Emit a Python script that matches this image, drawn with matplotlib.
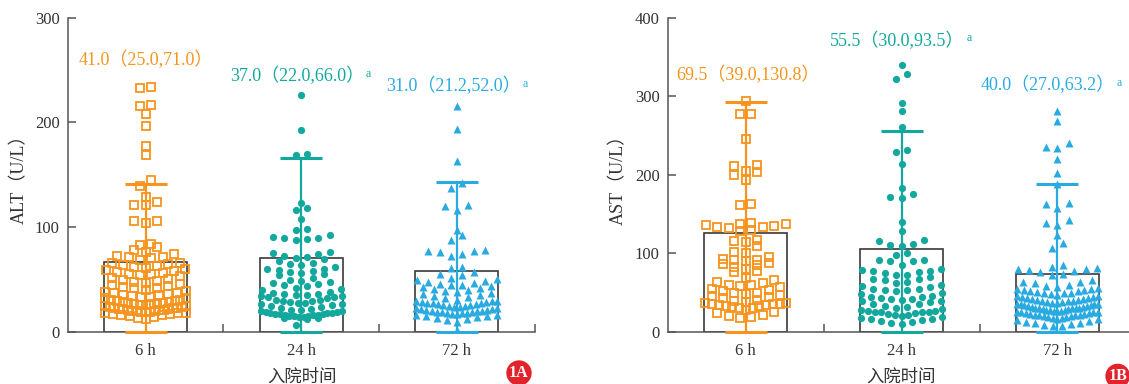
import numpy as np
import matplotlib.pyplot as plt

plt.rcParams['font.family'] = ['Liberation Serif', 'Noto Sans CJK SC', 'DejaVu Sans']

groups = ['6 h', '24 h', '72 h']
colors = ['#F7941D', '#13A89E', '#29ABE2']
markers = ['s', 'o', '^']

# ALT (U/L)
alt_6h = [234, 233, 217, 216, 208, 197, 178, 169, 145, 139, 129, 124, 121, 121, 106, 106, 104,
          84, 83, 81, 78, 76, 74, 73, 72, 72, 71, 69,
          66, 66, 65, 64, 63, 62, 61, 60, 59, 58, 57, 56, 55, 55, 54, 53, 52, 51, 50, 49, 48, 47,
          46, 45, 44, 43, 42, 42,
          40, 39, 38, 37, 37, 36, 35, 35, 34, 33, 33, 32, 32, 31, 31, 30, 30, 29, 29, 28, 28, 27,
          27, 27, 26, 26, 25, 25,
          24, 24, 23, 23, 23, 22, 22, 22, 21, 21, 21, 20, 20, 20, 19, 19, 19, 18, 18, 18, 17, 17,
          16, 16, 15, 14, 13, 12]
alt_24h = [226, 193, 170, 169, 123, 118, 116, 108, 98, 97, 93, 91, 90, 90, 89, 88, 76, 75, 74,
           73, 72, 71, 70, 68,
           66, 65, 64, 62, 60, 60, 59, 58, 57, 56, 55, 54, 52, 50, 49, 48, 47, 46, 45, 44, 42, 41,
           40, 38,
           37, 36, 36, 35, 35, 34, 34, 33, 33, 32, 31, 31, 30, 30, 29, 28, 28, 27, 27, 26, 25, 24,
           23, 22,
           21, 21, 20, 20, 19, 19, 18, 18, 18, 17, 17, 17, 16, 16, 16, 15, 15, 15, 14, 14, 13, 13,
           12, 7]
alt_72h = [216, 194, 163, 142, 137, 121, 120, 116, 97, 93, 88, 78, 77, 77, 76, 74, 73, 62, 61,
           57, 55, 54,
           52, 51, 50, 49, 48, 47, 46, 45, 45, 44, 43, 42, 41, 40, 39, 38, 37, 36, 35, 34, 33, 32,
           31, 30, 30, 30, 29, 29, 28, 28, 28, 27, 27, 26, 26, 25, 25, 24, 24, 23, 23, 22, 22, 21,
           21, 20, 20, 20, 19, 19, 19, 18, 18, 18, 17, 17, 16, 16, 15, 15, 14, 13, 12, 11, 10, 2]
alt_mean = [67.1, 71.0, 58.5]
alt_sd = [74.5, 95.4, 84.7]
alt_text = ['41.0（25.0,71.0）', '37.0（22.0,66.0）', '31.0（21.2,52.0）']
alt_sup = ['', 'a', 'a']

# AST (U/L)
ast_6h = [294, 278, 278, 246, 212, 211, 205, 203, 200, 194, 163, 162,
          139, 138, 137, 136, 135, 134, 133, 132,
          130, 128, 117, 116, 115, 109, 102, 100, 96, 93, 92, 91, 90, 88, 87, 85, 83, 80, 78, 76,
          69, 66, 64, 62, 60, 60, 58, 57, 55, 53, 52, 50, 49, 48, 47, 46, 45, 43, 41, 40,
          38, 37, 37, 36, 35, 35, 34, 34, 33, 33, 32, 31, 30, 28, 26, 24, 22, 20, 19, 18]
ast_24h = [340, 328, 322, 291, 281, 261, 232, 229, 214, 183, 176, 172, 170, 140, 129, 117, 116,
           112, 111, 110, 101, 98,
           92, 91, 90, 90, 85, 80, 79, 78, 77, 76, 75, 73, 72, 70, 68, 67, 66, 64, 62, 60, 58, 57,
           55, 55, 54, 53, 52, 50, 48, 46, 45, 44, 43, 42, 42, 41, 40, 39, 38, 36, 35, 33, 32, 31,
           29, 28, 27, 27, 26, 26, 25, 25, 24, 23, 22, 21, 20, 19, 18, 17, 16, 15, 14, 13, 11, 10]
ast_72h = [281, 268, 241, 236, 234, 220, 202, 188, 164, 163, 158, 142, 139, 136, 123, 113, 107,
           85, 83, 81, 80, 80, 79, 78, 76, 74, 72, 66, 64,
           63, 62, 60, 58, 57, 56, 55, 55, 54, 53, 52, 52, 51, 50, 50, 49, 48, 47, 46, 46, 45, 44,
           43, 43, 42, 42, 41, 41, 40,
           39, 39, 38, 38, 37, 37, 36, 36, 35, 35, 34, 34, 33, 33, 32, 32, 31, 31, 30, 30, 30, 29,
           29, 28, 28, 28, 27, 27, 27,
           26, 26, 25, 25, 24, 24, 23, 23, 22, 22, 21, 21, 20, 20, 19, 19, 18, 18, 17, 16, 15, 14,
           13, 12, 11, 10, 9, 8, 7]
ast_mean = [126.4, 106.0, 73.4]
ast_sd = [165.9, 149.4, 114.5]
ast_text = ['69.5（39.0,130.8）', '55.5（30.0,93.5）', '40.0（27.0,63.2）']
ast_sup = ['', 'a', 'a']


def spread(vals, h, dx=0.073, half=0.26):
    # simple column scatter: points within h of each other share a row,
    # the smallest sits in the middle and the rest fan outward
    v = np.sort(np.asarray(vals, float))
    xs = np.zeros(len(v))
    s = 0
    while s < len(v):
        e = s
        while e < len(v) and v[e] - v[s] < h:
            e += 1
        n = e - s
        step = dx if n <= 1 else min(dx, 2 * half / (n - 1))
        for k in range(n):
            if n % 2:
                off = ((k + 1) // 2) * (-1 if k % 2 else 1)
            else:
                off = (k // 2 + 0.5) * (-1 if k % 2 == 0 else 1)
            xs[s + k] = off * step
        s = e
    return v, xs


def panel(ax, data, means, sds, texts, sups, ymax, h, text_pos):
    x = np.arange(3)
    ax.bar(x, means, width=0.534, color='white', edgecolor='#3a3a3a', linewidth=1.2, zorder=1)
    for i, vals in enumerate(data):
        v, dx = spread(vals, h)
        if markers[i] == 's':
            ax.plot(i + dx, v, ls='none', marker='s', ms=5.6, mfc='none', mec=colors[i],
                    mew=1.3, zorder=3)
        else:
            ms = 5.2 if markers[i] == 'o' else 6.0
            ax.plot(i + dx, v, ls='none', marker=markers[i], ms=ms, color=colors[i],
                    mec='none', zorder=3)
        ax.errorbar(i, means[i], yerr=[[means[i]], [sds[i]]], fmt='none', ecolor=colors[i],
                    elinewidth=1.6, capsize=14.9, capthick=2.2, zorder=4, clip_on=False)
        tx, ty = text_pos[i]
        t = ax.text(tx, ty, texts[i], color=colors[i], fontsize=13, ha='center', va='center')
        if sups[i]:
            ax.annotate(sups[i], xy=(1.0, 0.95), xycoords=t, xytext=(1, 0),
                        textcoords='offset points', color=colors[i], fontsize=8.5,
                        ha='left', va='top')

    ax.set_xlim(-0.5, 2.5)
    ax.set_ylim(0, ymax)
    ax.set_xticks(x)
    ax.set_xticklabels(groups)
    ax.set_xticks([0.5, 1.5, 2.5], minor=True)
    ax.tick_params(axis='x', which='major', length=0, pad=8, labelsize=12, labelcolor='#333333')
    ax.tick_params(axis='x', which='minor', direction='in', length=6, width=1.1, color='#555555')
    ax.tick_params(axis='y', direction='in', length=6, width=1.1, color='#555555', pad=6,
                   labelsize=12, labelcolor='#333333')
    for s in ['top', 'right']:
        ax.spines[s].set_visible(False)
    for s in ['left', 'bottom']:
        ax.spines[s].set_color('#555555')
        ax.spines[s].set_linewidth(1.1)


fig = plt.figure(figsize=(11.29, 3.84), dpi=100)
W, H = 1129, 384
ax1 = fig.add_axes([67.9 / W, 52 / H, 466.7 / W, 314.3 / H])
ax2 = fig.add_axes([667.9 / W, 52 / H, 467.4 / W, 314.3 / H])

panel(ax1, [alt_6h, alt_24h, alt_72h], alt_mean, alt_sd, alt_text, alt_sup, 300, 7,
      [(0.0, 260), (0.974, 244), (1.98, 235)])
panel(ax2, [ast_6h, ast_24h, ast_72h], ast_mean, ast_sd, ast_text, ast_sup, 400, 9.5,
      [(0.014, 326.6), (0.974, 370.7), (1.94, 313.9)])
ax1.set_yticks([0, 100, 200, 300])
ax2.set_yticks([0, 100, 200, 300, 400])

fig.text(19.6 / W, 1 - 175 / H, 'ALT（U/L）', rotation=90, ha='center', va='center',
         fontsize=13, color='#333333')
fig.text(618 / W, 1 - 175 / H, 'AST（U/L）', rotation=90, ha='center', va='center',
         fontsize=13, color='#333333')
fig.text(302 / W, 1 - 377 / H, '入院时间', ha='center', va='center', fontsize=12.5,
         color='#333333', family=['Noto Sans CJK SC'])
fig.text(901 / W, 1 - 377 / H, '入院时间', ha='center', va='center', fontsize=12.5,
         color='#333333', family=['Noto Sans CJK SC'])

for lab, px, py in [('1A', 519, 373), ('1B', 1117.7, 376)]:
    fig.text(px / W, 1 - py / H, lab, ha='center', va='center', fontsize=11.5,
             fontweight='bold', color='white',
             bbox=dict(boxstyle='circle,pad=0.18', fc='#E3232C', ec='none'))

fig.savefig('out.png', dpi=100)
